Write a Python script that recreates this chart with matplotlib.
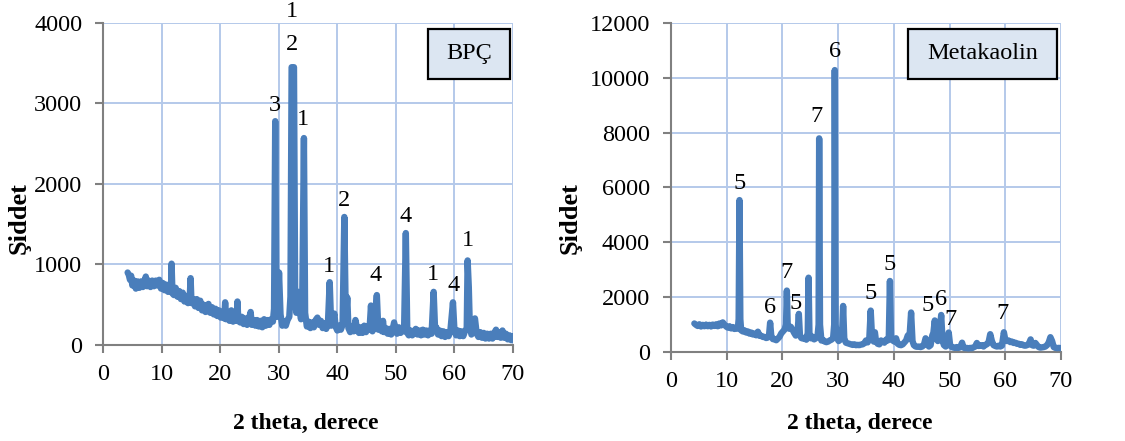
import matplotlib
matplotlib.use("Agg")
import matplotlib.pyplot as plt
from matplotlib.patches import Rectangle

plt.rcParams['font.family'] = ['Liberation Serif', 'DejaVu Serif']

# BPÇ difractogram, (2 theta, intensity)
bpc = [
    (4.2, 900), (4.4, 870), (4.6, 810), (4.8, 860), (5.0, 740), (5.3, 800), (5.6, 700), (5.9, 790),
    (6.2, 710), (6.5, 790), (6.8, 720), (7.1, 800), (7.3, 850), (7.5, 730), (7.8, 800), (8.1, 720),
    (8.4, 800), (8.7, 730), (9.0, 800), (9.3, 740), (9.6, 810), (9.9, 700), (10.2, 770), (10.5, 680),
    (10.8, 750), (11.1, 660), (11.4, 730), (11.6, 670), (11.7, 1010), (11.85, 640), (12.1, 620),
    (12.4, 710), (12.7, 600), (13.0, 670), (13.3, 570), (13.6, 650), (13.9, 540), (14.2, 610),
    (14.5, 520), (14.8, 590), (14.95, 830), (15.1, 520), (15.4, 570), (15.7, 480), (16.0, 570),
    (16.3, 460), (16.6, 550), (16.9, 430), (17.2, 500), (17.5, 410), (17.8, 490), (18.0, 510),
    (18.3, 400), (18.6, 470), (18.9, 380), (19.2, 450), (19.5, 360), (19.8, 430), (20.1, 340),
    (20.4, 410), (20.7, 330), (20.85, 530), (21.0, 320), (21.3, 390), (21.6, 300), (21.9, 430),
    (22.2, 290), (22.5, 370), (22.8, 300), (22.95, 540), (23.1, 300), (23.4, 280), (23.7, 350),
    (24.0, 260), (24.3, 330), (24.6, 250), (24.9, 320), (25.2, 410), (25.4, 250), (25.7, 310),
    (26.0, 240), (26.3, 310), (26.6, 230), (26.9, 300), (27.2, 220), (27.5, 320), (27.8, 240),
    (28.1, 310), (28.4, 250), (28.7, 320), (29.0, 290), (29.2, 450), (29.4, 2780), (29.6, 450),
    (29.8, 350), (30.05, 900), (30.3, 380), (30.6, 240), (30.9, 290), (31.2, 240), (31.5, 310),
    (31.8, 350), (32.0, 600), (32.2, 3450), (32.6, 3450), (32.8, 600), (33.0, 400), (33.3, 660),
    (33.5, 450), (33.8, 320), (34.0, 450), (34.3, 2570), (34.5, 400), (34.8, 230), (35.1, 290),
    (35.4, 210), (35.7, 280), (36.0, 220), (36.3, 310), (36.6, 340), (36.9, 250), (37.2, 300),
    (37.5, 210), (37.8, 270), (38.1, 200), (38.4, 270), (38.7, 780), (38.95, 240), (39.2, 300),
    (39.5, 390), (39.7, 230), (40.0, 180), (40.3, 240), (40.6, 190), (40.9, 250), (41.2, 1590),
    (41.45, 300), (41.7, 590), (41.9, 210), (42.2, 160), (42.5, 230), (42.8, 170), (43.1, 310),
    (43.4, 190), (43.7, 150), (44.0, 220), (44.3, 150), (44.6, 240), (44.9, 160), (45.2, 230),
    (45.5, 190), (45.75, 490), (46.0, 170), (46.3, 240), (46.75, 620), (47.0, 190), (47.3, 250),
    (47.6, 170), (47.8, 300), (48.0, 160), (48.3, 210), (48.6, 140), (48.9, 200), (49.2, 130),
    (49.5, 210), (49.7, 280), (49.9, 190), (50.2, 140), (50.5, 220), (50.8, 150), (51.1, 210),
    (51.4, 170), (51.7, 1390), (51.95, 150), (52.2, 120), (52.5, 180), (52.8, 120), (53.1, 170),
    (53.4, 200), (53.7, 130), (54.0, 180), (54.3, 120), (54.6, 190), (54.9, 130), (55.2, 180),
    (55.5, 120), (55.8, 180), (56.1, 140), (56.45, 660), (56.7, 180), (56.9, 220), (57.2, 130),
    (57.5, 180), (57.8, 110), (58.1, 170), (58.4, 100), (58.7, 160), (59.0, 110), (59.3, 170),
    (59.75, 530), (60.0, 180), (60.3, 120), (60.6, 180), (60.9, 110), (61.2, 170), (61.5, 110),
    (61.8, 170), (62.1, 200), (62.25, 1050), (62.45, 720), (62.6, 300), (62.9, 130), (63.2, 190),
    (63.5, 330), (63.8, 140), (64.1, 100), (64.4, 160), (64.7, 90), (65.0, 150), (65.3, 80),
    (65.6, 140), (65.9, 80), (66.2, 140), (66.5, 80), (66.8, 150), (67.1, 190), (67.3, 100),
    (67.6, 160), (67.9, 90), (68.2, 180), (68.5, 90), (68.8, 140), (69.1, 70), (69.4, 120),
    (69.7, 60), (70.0, 110),
]

# Metakaolin difractogram, (2 theta, intensity)
meta = [
    (4.2, 1040), (4.5, 990), (4.8, 950), (5.1, 1010), (5.4, 930), (5.7, 990), (6.0, 940), (6.3, 1000),
    (6.6, 940), (6.9, 990), (7.2, 930), (7.5, 1000), (7.8, 950), (8.1, 1010), (8.4, 940), (8.7, 1040),
    (9.0, 970), (9.3, 1080), (9.6, 1000), (9.9, 930), (10.2, 890), (10.5, 940), (10.8, 860),
    (11.1, 910), (11.4, 840), (11.7, 890), (12.0, 850), (12.15, 1200), (12.3, 5540), (12.45, 1200),
    (12.6, 790), (12.9, 750), (13.2, 790), (13.5, 710), (13.8, 750), (14.1, 670), (14.4, 710),
    (14.7, 640), (15.0, 670), (15.3, 610), (15.6, 740), (15.9, 590), (16.2, 590), (16.5, 550),
    (16.8, 550), (17.1, 510), (17.4, 530), (17.6, 600), (17.8, 1070), (18.0, 600), (18.3, 470),
    (18.6, 470), (18.9, 430), (19.2, 490), (19.5, 560), (19.8, 680), (20.1, 750), (20.4, 820),
    (20.65, 1000), (20.8, 2240), (20.95, 1000), (21.2, 850), (21.5, 920), (21.8, 820), (22.1, 700),
    (22.4, 600), (22.7, 650), (22.95, 1390), (23.15, 600), (23.4, 510), (23.7, 490), (24.0, 520),
    (24.3, 450), (24.55, 700), (24.7, 2710), (24.85, 700), (25.1, 500), (25.4, 560), (25.7, 460),
    (26.0, 500), (26.3, 560), (26.5, 1000), (26.6, 7790), (26.75, 1000), (27.0, 420), (27.3, 440),
    (27.6, 380), (27.9, 360), (28.2, 380), (28.5, 420), (28.8, 450), (29.1, 500), (29.3, 1000),
    (29.4, 10280), (29.55, 1000), (29.8, 500), (30.1, 400), (30.4, 450), (30.7, 600), (30.9, 1680),
    (31.1, 500), (31.4, 340), (31.7, 320), (32.0, 300), (32.3, 280), (32.6, 260), (32.9, 280),
    (33.2, 250), (33.5, 260), (33.8, 250), (34.1, 270), (34.4, 280), (34.7, 320), (35.0, 420),
    (35.3, 350), (35.6, 500), (35.85, 1510), (36.1, 500), (36.4, 380), (36.6, 720), (36.8, 400),
    (37.1, 300), (37.4, 280), (37.7, 420), (38.0, 380), (38.3, 340), (38.6, 450), (38.9, 420),
    (39.1, 550), (39.3, 2590), (39.5, 500), (39.8, 420), (40.1, 380), (40.4, 500), (40.7, 300),
    (41.0, 260), (41.3, 250), (41.6, 280), (41.9, 350), (42.2, 420), (42.5, 600), (42.8, 500),
    (43.1, 1440), (43.35, 400), (43.6, 250), (43.9, 200), (44.2, 190), (44.5, 200), (44.8, 180),
    (45.1, 200), (45.4, 260), (45.7, 500), (46.0, 300), (46.3, 200), (46.6, 250), (46.9, 600),
    (47.1, 700), (47.35, 1150), (47.6, 500), (47.9, 400), (48.2, 700), (48.5, 1350), (48.75, 400),
    (49.0, 250), (49.3, 200), (49.6, 250), (49.85, 710), (50.1, 250), (50.4, 180), (50.7, 160),
    (51.0, 150), (51.3, 180), (51.6, 150), (51.9, 170), (52.25, 340), (52.5, 160), (52.8, 140),
    (53.1, 150), (53.4, 130), (53.7, 150), (54.0, 140), (54.3, 170), (54.6, 200), (54.9, 330),
    (55.2, 220), (55.5, 230), (55.8, 250), (56.1, 200), (56.4, 260), (56.7, 280), (57.0, 350),
    (57.3, 650), (57.6, 400), (57.9, 250), (58.2, 220), (58.5, 200), (58.8, 230), (59.1, 200),
    (59.4, 230), (59.75, 720), (60.0, 450), (60.3, 400), (60.6, 420), (60.9, 360), (61.2, 380),
    (61.5, 330), (61.8, 340), (62.1, 300), (62.4, 300), (62.7, 260), (63.0, 280), (63.3, 240),
    (63.6, 230), (63.9, 250), (64.2, 280), (64.55, 460), (64.8, 250), (65.1, 230), (65.4, 330),
    (65.7, 250), (66.0, 180), (66.3, 160), (66.6, 170), (66.9, 180), (67.2, 200), (67.5, 250),
    (67.8, 350), (68.1, 540), (68.4, 400), (68.7, 180), (69.0, 150), (69.3, 140), (69.6, 150),
    (70.0, 140),
]

# phase numbers written over the peaks
bpc_labels = ['1', '2', '3', '1', '1', '2', '4', '4', '1', '4', '1']
bpc_label_x = [32.3, 32.3, 29.4, 34.2, 38.6, 41.2, 46.6, 51.6, 56.4, 59.8, 62.3]
bpc_label_y = [4140, 3730, 2980, 2800, 970, 1800, 860, 1590, 870, 745, 1300]

meta_labels = ['5', '6', '7', '5', '7', '6', '5', '5', '5', '6', '7', '7']
meta_label_x = [12.3, 17.8, 20.8, 22.3, 26.1, 29.4, 35.8, 39.3, 46.0, 48.5, 50.2, 59.5]
meta_label_y = [6150, 1630, 2890, 1780, 8580, 10950, 2140, 3200, 1710, 1900, 1170, 1410]

x_ticks = [0, 10, 20, 30, 40, 50, 60, 70]
bpc_y_ticks = [0, 1000, 2000, 3000, 4000]
meta_y_ticks = [0, 2000, 4000, 6000, 8000, 10000, 12000]

line_color = '#4a7ebb'
grid_color = '#b4c9ea'
axis_color = '#808080'

fig = plt.figure(figsize=(11.25, 4.41), dpi=100)
ax1 = fig.add_axes([0.0916, 0.2177, 0.3644, 0.7303])
ax2 = fig.add_axes([0.5964, 0.2018, 0.3467, 0.7462])


def draw_panel(ax, data, yticks, labels, lx, ly):
    xs = [p[0] for p in data]
    ys = [p[1] for p in data]
    ax.plot(xs, ys, color=line_color, lw=4.6, solid_joinstyle='round',
            solid_capstyle='round', zorder=3)
    ax.set_xlim(0, 70)
    ax.set_ylim(yticks[0], yticks[-1])
    ax.set_xticks(x_ticks)
    ax.set_yticks(yticks)
    ax.grid(True, color=grid_color, lw=1.4, zorder=0)
    ax.set_axisbelow(True)
    for side in ['top', 'right']:
        ax.spines[side].set_visible(False)
    for side in ['left', 'bottom']:
        ax.spines[side].set_color(axis_color)
        ax.spines[side].set_linewidth(1.5)
        ax.spines[side].set_zorder(2)
    ax.tick_params(direction='out', length=6, width=1.5, color=axis_color,
                   labelsize=17.5)
    ax.tick_params(axis='y', pad=9)
    ax.tick_params(axis='x', pad=8)
    for t, x, y in zip(labels, lx, ly):
        ax.text(x, y, t, ha='center', va='center', fontsize=17.5,
                clip_on=False, zorder=4)


draw_panel(ax1, bpc, bpc_y_ticks, bpc_labels, bpc_label_x, bpc_label_y)
draw_panel(ax2, meta, meta_y_ticks, meta_labels, meta_label_x, meta_label_y)

# sample name boxes
for x0, w, name in [(0.3804, 0.0729, 'BPÇ'), (0.8071, 0.1324, 'Metakaolin')]:
    fig.add_artist(Rectangle((x0, 0.8209), w, 0.1134, transform=fig.transFigure,
                             facecolor='#dce6f2', edgecolor='black', lw=1.6, zorder=5))
    fig.text(x0 + w / 2, 0.8776, name, ha='center', va='center', fontsize=17.5, zorder=6)

for x in [306 / 1125, 860 / 1125]:
    fig.text(x, 1 - 423 / 441, '2 theta, derece', ha='center', va='center',
             fontsize=17, fontweight='bold')
for x in [19 / 1125, 570 / 1125]:
    fig.text(x, 1 - 218 / 441, 'Şiddet', ha='center', va='center', rotation=90,
             fontsize=19, fontweight='bold')

fig.savefig('out.png', dpi=100)
